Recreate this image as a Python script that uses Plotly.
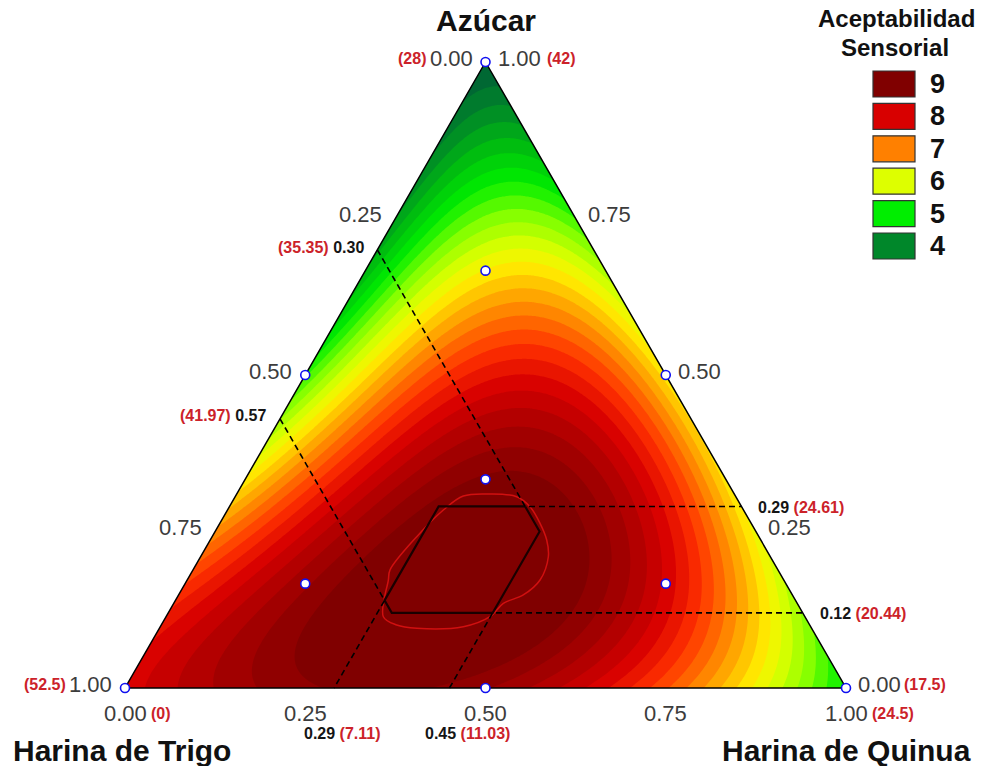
import numpy as np
import plotly.graph_objects as go

# ---------------- data ----------------
# design points of the mixture experiment (pseudo-components)
pt_sugar = [1, 0, 0, 0.5, 0.5, 0, 1/3, 2/3, 1/6, 1/6]
pt_wheat = [0, 1, 0, 0.5, 0, 0.5, 1/3, 1/6, 2/3, 1/6]
pt_quinoa = [0, 0, 1, 0, 0.5, 0.5, 1/3, 1/6, 1/6, 2/3]

# sensory acceptability at sample compositions
rd_sugar = [1, 0, 0,
            0.9, 0.75, 0.62, 0.5, 0.43, 0.364, 0.3, 0.25, 0.1,
            0.9, 0.8, 0.7, 0.5, 0.29, 0.12, 0.05,
            0, 0, 0, 0, 0, 0,
            1/3, 2/3, 1/6, 1/6,
            0.62, 0.572, 0.524, 0.46, 0.396,
            0.310, 0.281, 0.2, 0.1134, 0.099, 0.0958, 0.1054, 0.2093, 0.268,
            0.2, 0.15, 0.25,
            0.06, 0.03, 0.06, 0.2, 0.2]
rd_wheat = [0, 1, 0,
            0.1, 0.25, 0.38, 0.5, 0.57, 0.636, 0.7, 0.75, 0.9,
            0, 0, 0, 0, 0, 0, 0,
            0.9, 0.75, 0.5, 0.25, 0.15, 0.08,
            1/3, 1/6, 2/3, 1/6,
            0.184, 0.2078, 0.2318, 0.2638, 0.2958,
            0.339, 0.418, 0.523, 0.586, 0.572, 0.547, 0.441, 0.309, 0.2946,
            0.42, 0.47, 0.38,
            0.64, 0.55, 0.45, 0.6, 0.25]
rd_quinoa = [0, 0, 1,
             0, 0, 0, 0, 0, 0, 0, 0, 0,
             0.1, 0.2, 0.3, 0.5, 0.71, 0.88, 0.95,
             0.1, 0.25, 0.5, 0.75, 0.85, 0.92,
             1/3, 1/6, 1/6, 2/3,
             0.196, 0.2202, 0.2442, 0.2762, 0.3082,
             0.351, 0.3006, 0.277, 0.301, 0.329, 0.357, 0.4535, 0.482, 0.4374,
             0.38, 0.38, 0.37,
             0.30, 0.42, 0.49, 0.2, 0.55]
rd_score = [3.6, 7.9, 5.0,
            3.8, 4.3, 4.7, 5.0, 5.5, 6.0, 6.5, 7.0, 7.6,
            4.2, 4.8, 5.6, 6.3, 6.1, 5.6, 5.2,
            8.3, 8.85, 8.85, 7.3, 6.3, 5.6,
            8.8, 6.3, 8.7, 8.1,
            6.6, 7.0, 7.6, 8.0, 8.4,
            9.05, 9.05, 9.05, 9.05, 9.05, 9.05, 9.05, 9.05, 9.05,
            9.3, 9.2, 9.2,
            8.9, 8.88, 8.9, 8.8, 8.75]

# boundary of the top-acceptability zone (red outline)
loop_sugar = [0.3099, 0.3056, 0.2896, 0.2631, 0.2364, 0.2097, 0.1725, 0.1486, 0.1353, 0.1139,
              0.0979, 0.0954, 0.1006, 0.1139, 0.1725, 0.1885, 0.2417, 0.2843, 0.3067, 0.3099]
loop_wheat = [0.3388, 0.3039, 0.2935, 0.2928, 0.2969, 0.3080, 0.3381, 0.3733, 0.4076, 0.4368,
              0.4818, 0.5477, 0.5729, 0.5847, 0.5485, 0.5382, 0.4745, 0.4163, 0.3774, 0.3388]
loop_quinoa = [0.3513, 0.3905, 0.4169, 0.4441, 0.4667, 0.4823, 0.4894, 0.4781, 0.4571, 0.4493,
               0.4203, 0.3569, 0.3265, 0.3014, 0.2790, 0.2733, 0.2838, 0.2994, 0.3159, 0.3513]

# optimum region (hexagon) and constraint lines
hex_sugar = [0.29, 0.25, 0.12, 0.12, 0.14, 0.29, 0.29]
hex_wheat = [0.30, 0.30, 0.43, 0.57, 0.57, 0.42, 0.30]
hex_quinoa = [0.41, 0.45, 0.45, 0.31, 0.29, 0.29, 0.41]
guide_sugar = [[0.70, 0.29, 0.29], [0.43, 0.14, 0.0], [0.0, 0.12, 0.12]]
guide_wheat = [[0.30, 0.30, 0.0], [0.57, 0.57, 0.71], [0.55, 0.43, 0.0]]
guide_quinoa = [[0.0, 0.41, 0.71], [0.0, 0.29, 0.29], [0.45, 0.45, 0.88]]

# axis tick labels
tick_vals = [0.0, 0.25, 0.5, 0.75, 1.0]
tick_text = ["0.00", "0.25", "0.50", "0.75", "1.00"]
wheat_real = ["(28)", "(52.5)"]     # Harina de Trigo 0 / 1
sugar_real = ["(42)", "(17.5)"]     # Azúcar 1 / 0
quinoa_real = ["(0)", "(24.5)"]     # Harina de Quinua 0 / 1

legend_levels = [9, 8, 7, 6, 5, 4]
legend_colors = ["#800000", "#D80000", "#FF8000", "#DDFF00", "#00EE00", "#00872A"]

RED = "#CC2229"
SQ = np.sqrt(3) / 2


def to_xy(a, t, q):
    a = np.asarray(a, float); q = np.asarray(q, float)
    return q + a / 2, a * SQ


def terms(a, t, q):
    return np.stack([a, t, q, a * t, a * q, t * q,
                     a * t * (a - t), a * q * (a - q), t * q * (t - q),
                     a * t * (a - t) ** 2, a * q * (a - q) ** 2, t * q * (t - q) ** 2,
                     a * a * t * q, a * t * t * q, a * t * q * q], axis=-1)


A = terms(np.array(rd_sugar), np.array(rd_wheat), np.array(rd_quinoa))
coef, *_ = np.linalg.lstsq(A, np.array(rd_score), rcond=None)

gx = np.linspace(0, 1, 401)
gy = np.linspace(0, SQ, 350)
GX, GY = np.meshgrid(gx, gy)
Ga = GY / SQ
Gq = GX - Ga / 2
Gt = 1 - Ga - Gq
Z = terms(Ga, Gt, Gq) @ coef

cs_vals = [3.5, 4.0, 4.5, 5.0, 5.5, 6.0, 6.3, 6.6, 7.0, 7.5, 8.0, 8.5, 9.0]
cs_cols = ["#00553A", "#00842A", "#00BB10", "#00EE00", "#80FF00", "#DDFF00", "#FFEE00",
           "#FFBF00", "#FF8000", "#FF3000", "#D80000", "#A80000", "#800000"]
zmin, zmax = 3.5, 9.0
colorscale = [[(v - zmin) / (zmax - zmin), c] for v, c in zip(cs_vals, cs_cols)]

fig = go.Figure()
fig.add_trace(go.Contour(x=gx, y=gy, z=Z, colorscale=colorscale, zauto=False, zmin=zmin, zmax=zmax,
                         contours=dict(start=2.0, end=10.0, size=0.2, coloring="fill", showlines=False),
                         line=dict(width=0), showscale=False, hoverinfo="skip"))

# white mask outside the triangle
mx = [-1, 0, 0.5, 0.5, -1, -1, None, 1, 2, 2, 0.5, 0.5, 1, None, -1, 2, 2, -1, -1]
my = [-1, 0, SQ, 2, 2, -1, None, 0, 0, 2, 2, SQ, 0, None, -1, -1, 0, 0, -1]
fig.add_trace(go.Scatter(x=mx, y=my, fill="toself", fillcolor="white", mode="none", hoverinfo="skip"))

# red outline of the best zone
lx, ly = to_xy(loop_sugar, loop_wheat, loop_quinoa)
fig.add_trace(go.Scatter(x=lx, y=ly, mode="lines", line=dict(color="#D01010", width=1.5, shape="spline",
                                                              smoothing=1.0), hoverinfo="skip"))
# optimum hexagon
hx, hy = to_xy(hex_sugar, hex_wheat, hex_quinoa)
fig.add_trace(go.Scatter(x=hx, y=hy, mode="lines", line=dict(color="#1a0000", width=2.2), hoverinfo="skip"))
# dashed guides
for gs, gw, gq in zip(guide_sugar, guide_wheat, guide_quinoa):
    dx, dy = to_xy(gs, gw, gq)
    fig.add_trace(go.Scatter(x=dx, y=dy, mode="lines", line=dict(color="black", width=1.6, dash="6px,4px"),
                             hoverinfo="skip"))
# triangle outline
tx, ty = to_xy([1, 0, 0, 1], [0, 1, 0, 0], [0, 0, 1, 0])
fig.add_trace(go.Scatter(x=tx, y=ty, mode="lines", line=dict(color="black", width=1.5), hoverinfo="skip"))
# design points
px_, py_ = to_xy(pt_sugar, pt_wheat, pt_quinoa)
fig.add_trace(go.Scatter(x=px_, y=py_, mode="markers",
                         marker=dict(symbol="circle", size=9, color="white", line=dict(color="#1010F0", width=1.6)),
                         hoverinfo="skip"))

ann = []
TICKF = dict(family="Liberation Sans, Arial", size=22, color="#3c3c3c")
SMALLF = dict(family="Liberation Sans, Arial", size=16, color=RED)


def add(x, y, text, font, xa="center", xs=0, ys=0, xref="x", yref="y"):
    ann.append(dict(x=x, y=y, xref=xref, yref=yref, text=text, font=font, showarrow=False,
                    xanchor=xa, yanchor="middle", xshift=xs, yshift=ys))


for v, s in zip(tick_vals, tick_text):
    # left edge: Harina de Trigo
    x, y = to_xy(1 - v, v, 0)
    add(float(x), float(y), s, TICKF, "right", -11, 4)
    # right edge: Azúcar
    x, y = to_xy(v, 0, 1 - v)
    add(float(x), float(y), s, TICKF, "left", 10, 4)
    # bottom: Harina de Quinua
    x, y = to_xy(0, 1 - v, v)
    add(float(x), float(y), s, TICKF, "center", 0, -25)

# real amounts
x, y = to_xy(1, 0, 0)
add(float(x), float(y), "<b>" + wheat_real[0] + "</b>", SMALLF, "right", -58, 4)
add(float(x), float(y), "<b>" + sugar_real[0] + "</b>", SMALLF, "left", 59, 4)
x, y = to_xy(0, 1, 0)
add(float(x), float(y), "<b>" + wheat_real[1] + "</b>", SMALLF, "right", -57, 4)
add(float(x), float(y), "<b>" + quinoa_real[0] + "</b>", SMALLF, "left", 24, -25)
x, y = to_xy(0, 0, 1)
add(float(x), float(y), "<b>" + sugar_real[1] + "</b>", SMALLF, "left", 56, 4)
add(float(x), float(y), "<b>" + quinoa_real[1] + "</b>", SMALLF, "left", 24, -25)

# guide line labels
BLK = "#151515"


def lab(frac, real, first):
    f = '<span style="color:%s">%s</span>' % (BLK, frac)
    r = '<span style="color:%s">%s</span>' % (RED, real)
    return "<b>" + (f + " " + r if first else r + " " + f) + "</b>"


x, y = to_xy(0.70, 0.30, 0)
add(float(x), float(y), lab("0.30", "(35.35)", False), SMALLF, "right", -11, 2)
x, y = to_xy(0.43, 0.57, 0)
add(float(x), float(y), lab("0.57", "(41.97)", False), SMALLF, "right", -12, 3)
x, y = to_xy(0.29, 0, 0.71)
add(float(x), float(y), lab("0.29", "(24.61)", True), SMALLF, "left", 15, -1)
x, y = to_xy(0.12, 0, 0.88)
add(float(x), float(y), lab("0.12", "(20.44)", True), SMALLF, "left", 15, -1)
x, y = to_xy(0, 0.71, 0.29)
add(float(x), float(y), lab("0.29", "(7.11)", True), SMALLF, "left", -32, -45)
x, y = to_xy(0, 0.55, 0.45)
add(float(x), float(y), lab("0.45", "(11.03)", True), SMALLF, "left", -26, -45)

# titles
W, H = 981, 766
TF = dict(family="Liberation Sans, Arial", size=30, color="#111111")
add(486 / W, 1 - 20 / H, "<b>Azúcar</b>", TF, "center", xref="paper", yref="paper")
add(11 / W, 1 - 750 / H, "<b>Harina de Trigo</b>", TF, "left", xref="paper", yref="paper")
add(973 / W, 1 - 750 / H, "<b>Harina de Quinua</b>", TF, "right", xref="paper", yref="paper")
LF = dict(family="Liberation Sans, Arial", size=24, color="#111111")
add(896 / W, 1 - 19 / H, "<b>Aceptabilidad</b>", LF, "center", xref="paper", yref="paper")
add(895 / W, 1 - 48 / H, "<b>Sensorial</b>", LF, "center", xref="paper", yref="paper")

shapes = []
LNF = dict(family="Liberation Sans, Arial", size=27, color="#111111")
for i, (lv, col) in enumerate(zip(legend_levels, legend_colors)):
    y0 = 71 + 32.4 * i
    shapes.append(dict(type="rect", xref="paper", yref="paper", x0=873 / W, x1=915 / W,
                       y0=1 - (y0 + 26) / H, y1=1 - y0 / H, fillcolor=col,
                       line=dict(color="#333333", width=1.2)))
    add(937 / W, 1 - (y0 + 13) / H, "<b>%d</b>" % lv, LNF, "center", xref="paper", yref="paper")

ppx = 721.0
ppy = 626.0 / SQ
fig.update_layout(
    width=W, height=H, autosize=False, margin=dict(l=0, r=0, t=0, b=0),
    paper_bgcolor="white", plot_bgcolor="white", showlegend=False,
    xaxis=dict(range=[-125 / ppx, (W - 125) / ppx], visible=False, fixedrange=True),
    yaxis=dict(range=[-(H - 688) / ppy, 688 / ppy], visible=False, fixedrange=True),
    annotations=ann, shapes=shapes,
)
fig.write_html("out.html", config={"displayModeBar": False},
               post_script="document.body.style.margin='0';document.body.style.overflow='hidden';")
